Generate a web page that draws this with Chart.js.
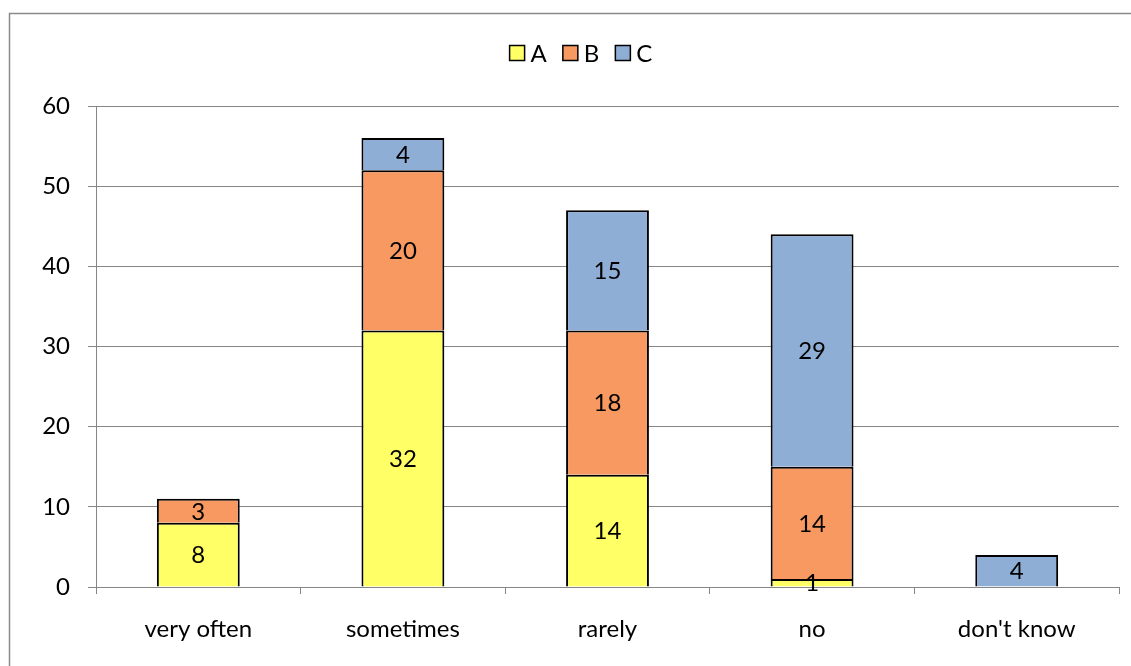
<!DOCTYPE html>
<html>
<head>
<meta charset="utf-8">
<script src="https://cdn.jsdelivr.net/npm/chart.js@4/dist/chart.umd.min.js"></script>
<style>
  html, body { margin: 0; padding: 0; background: #fff; }
  #wrap { width: 1131px; height: 666px; position: relative; }
</style>
</head>
<body>
<div id="wrap"><canvas id="c" width="1131" height="666"></canvas></div>
<script>
// Answer categories along the x axis
const categories = ["very often", "sometimes", "rarely", "no", "don't know"];

// Series names and counts per category
const seriesNames = ["A", "B", "C"];
const valuesA = [8, 32, 14, 1, 0];
const valuesB = [3, 20, 18, 14, 0];
const valuesC = [0, 4, 15, 29, 4];

// Value axis range
const yMin = 0;
const yMax = 60;
const yStep = 10;

const colors = ["#FFFF66", "#F79960", "#8FAED6"];
const FONT = "Lato, 'Open Sans', sans-serif";
const FONT_SIZE = 24;
const GRID = "#868686";

// Frame around the whole chart (left and top edges)
const framePlugin = {
  id: 'frame',
  beforeDraw(chart) {
    const ctx = chart.ctx;
    ctx.save();
    ctx.strokeStyle = '#8a8a8a';
    ctx.lineWidth = 1.5;
    ctx.beginPath();
    ctx.moveTo(9.5, chart.height);
    ctx.lineTo(9.5, 13.5);
    ctx.lineTo(chart.width, 13.5);
    ctx.stroke();
    ctx.restore();
  }
};

// Value labels centred in each stacked segment
const valueLabels = {
  id: 'valueLabels',
  afterDatasetsDraw(chart) {
    const ctx = chart.ctx;
    ctx.save();
    ctx.font = FONT_SIZE + 'px ' + FONT;
    ctx.fillStyle = '#000';
    ctx.textAlign = 'center';
    ctx.textBaseline = 'middle';
    chart.data.datasets.forEach((ds, i) => {
      const meta = chart.getDatasetMeta(i);
      meta.data.forEach((el, j) => {
        const v = ds.data[j];
        if (!v) return;
        const p = el.getProps(['x', 'y', 'base'], true);
        ctx.fillText(String(v), p.x, (p.y + p.base) / 2 + 1);
      });
    });
    ctx.restore();
  }
};

// Compact legend row: square swatch, then series name
const legendRow = {
  id: 'legendRow',
  afterDraw(chart) {
    const ctx = chart.ctx;
    const box = 15, gap = 6, spacing = 16, centerX = 581, centerY = 53;
    ctx.save();
    ctx.font = FONT_SIZE + 'px ' + FONT;
    const items = chart.data.datasets.map(ds => ({
      label: ds.label, color: ds.backgroundColor,
      w: box + gap + ctx.measureText(ds.label).width
    }));
    const total = items.reduce((s, it) => s + it.w, 0) + spacing * (items.length - 1);
    let x = centerX - total / 2;
    ctx.textBaseline = 'middle';
    ctx.textAlign = 'left';
    items.forEach(it => {
      ctx.fillStyle = it.color;
      ctx.fillRect(x, centerY - box / 2, box, box);
      ctx.strokeStyle = '#000';
      ctx.lineWidth = 1.5;
      ctx.strokeRect(x, centerY - box / 2, box, box);
      ctx.fillStyle = '#000';
      ctx.fillText(it.label, x + box + gap, centerY + 1);
      x += it.w + spacing;
    });
    ctx.restore();
  }
};

const seriesValues = [valuesA, valuesB, valuesC];

new Chart(document.getElementById('c'), {
  type: 'bar',
  data: {
    labels: categories,
    datasets: seriesNames.map((name, i) => ({
      label: name,
      data: seriesValues[i],
      backgroundColor: colors[i],
      borderColor: '#000',
      borderWidth: 2,
      borderSkipped: 'bottom',
      categoryPercentage: 1,
      barPercentage: 0.405
    }))
  },
  options: {
    responsive: false,
    animation: false,
    devicePixelRatio: 1,
    layout: { padding: { left: 0, right: 12, top: 106, bottom: 0 } },
    plugins: {
      legend: { display: false },
      tooltip: { enabled: false }
    },
    scales: {
      x: {
        stacked: true,
        grid: { drawOnChartArea: false, drawTicks: true, tickLength: 7, color: GRID, offset: true },
        border: { color: GRID, width: 1 },
        ticks: { color: '#000', font: { family: FONT, size: FONT_SIZE }, padding: 21, maxRotation: 0 },
        afterFit(scale) { scale.height = 79; }
      },
      y: {
        stacked: true,
        min: yMin,
        max: yMax,
        grid: { color: GRID, tickLength: 8, drawTicks: true },
        border: { color: GRID, width: 1 },
        ticks: { stepSize: yStep, color: '#000', font: { family: FONT, size: FONT_SIZE }, padding: 18 },
        afterFit(scale) { scale.width = 96; }
      }
    }
  },
  plugins: [framePlugin, valueLabels, legendRow]
});
</script>
</body>
</html>
